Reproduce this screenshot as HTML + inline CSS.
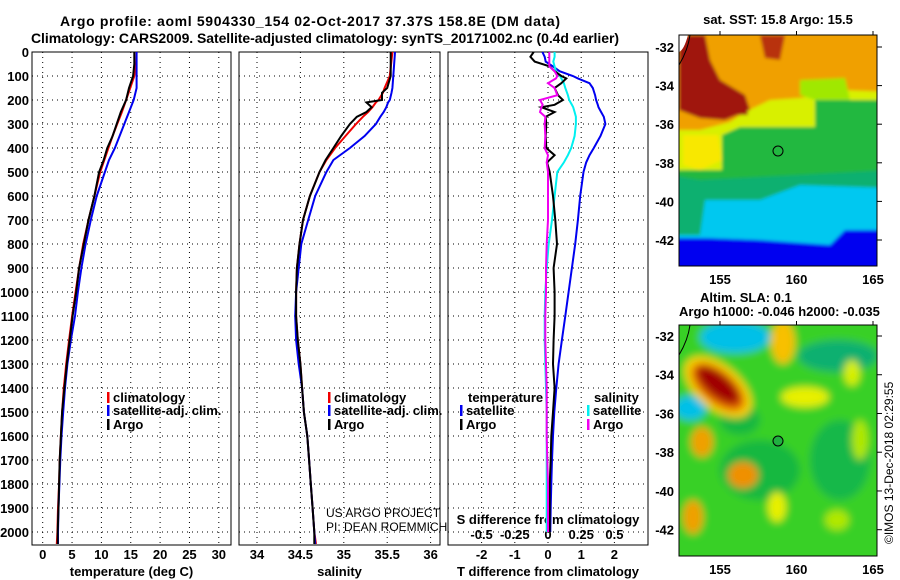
<!DOCTYPE html>
<html><head><meta charset="utf-8"><style>
html,body{margin:0;padding:0;background:#fff;}
svg{display:block;font-family:"Liberation Sans",sans-serif;}
.b{font-weight:bold;font-size:13px;}
.t{font-weight:bold;font-size:14px;}
.g{stroke:#000;stroke-width:1;stroke-dasharray:1,4;}
</style></head><body>
<svg id="chart" width="900" height="580" viewBox="0 0 900 580">
<text class="t" x="60" y="26" textLength="500">Argo profile: aoml 5904330_154 02-Oct-2017 37.37S 158.8E (DM data)</text>
<text class="t" x="31" y="43" textLength="588">Climatology: CARS2009. Satellite-adjusted climatology: synTS_20171002.nc (0.4d earlier)</text>
<g id="axes"></g>
<g id="lines"></g>

<defs>
<clipPath id="c1"><rect x="679" y="35" width="198" height="231"/></clipPath>
<clipPath id="c2"><rect x="679" y="325" width="198" height="231"/></clipPath>
<filter id="bl1"><feGaussianBlur stdDeviation="1.5"/></filter>
<filter id="bl2"><feGaussianBlur stdDeviation="4"/></filter>
</defs>
<g clip-path="url(#c1)">
 <g filter="url(#bl1)">
 <rect x="670" y="25" width="220" height="250" fill="#0000f0"/>
 <polygon points="670,25 890,25 890,230 845,230 830,245 760,240 705,238 670,238" fill="#00c8f0"/>
 <polygon points="670,25 890,25 890,188 800,185 760,200 705,200 700,235 670,235" fill="#10b070"/>
 <polygon points="670,25 890,25 890,170 700,180 670,175" fill="#20b840"/>
 <polygon points="670,25 890,25 890,100 815,100 815,127 740,127 722,135 722,170 670,170" fill="#d8f000"/>
 <polygon points="670,25 890,25 890,92 840,90 800,98 770,100 745,112 730,122 700,130 670,130" fill="#f0a000"/>
 <polygon points="800,80 845,78 850,100 815,100 800,95" fill="#a0e800"/>
 <polygon points="679,35 705,35 710,60 720,80 745,95 750,110 725,120 700,118 679,110" fill="#a01808"/>
 <polygon points="760,35 785,35 780,60 765,58" fill="#b83008"/>
 <polygon points="725,95 745,100 748,115 728,115" fill="#a01808"/>
 <polygon points="683,135 718,135 722,160 700,170 683,165" fill="#f8e800"/>
 </g>
 <path d="M679,65 Q688,50 690,35" fill="none" stroke="#000" stroke-width="1"/>
 <path d="M679,35 L688,35 Q684,50 679,52 Z" fill="#fff"/>
 <circle cx="778" cy="151" r="5" fill="none" stroke="#000" stroke-width="1"/>
</g>
<g clip-path="url(#c2)">
 <g filter="url(#bl2)">
 <rect x="670" y="315" width="220" height="250" fill="#38d028"/>
 <ellipse cx="735" cy="337" rx="35" ry="16" fill="#00c0e8"/>
 <ellipse cx="838" cy="356" rx="40" ry="16" fill="#10b070"/>
 <ellipse cx="690" cy="408" rx="16" ry="12" fill="#00c0e8"/>
 <ellipse cx="760" cy="470" rx="40" ry="30" fill="#18b840"/>
 <ellipse cx="840" cy="460" rx="30" ry="40" fill="#18b848"/>
 <ellipse cx="740" cy="420" rx="20" ry="15" fill="#18b840"/>
 <ellipse cx="718" cy="387" rx="40" ry="22" fill="#f8d000" transform="rotate(40 718 387)"/>
 <ellipse cx="718" cy="387" rx="32" ry="16" fill="#e06000" transform="rotate(40 718 387)"/>
 <ellipse cx="718" cy="385" rx="26" ry="11" fill="#a00000" transform="rotate(40 718 385)"/>
 <ellipse cx="783" cy="342" rx="12" ry="22" fill="#f8c000"/>
 <ellipse cx="805" cy="397" rx="24" ry="10" fill="#e8f000"/>
 <ellipse cx="852" cy="373" rx="8" ry="13" fill="#d8f000"/>
 <ellipse cx="702" cy="442" rx="11" ry="15" fill="#f0a000"/>
 <ellipse cx="743" cy="475" rx="15" ry="13" fill="#f09000"/>
 <ellipse cx="693" cy="517" rx="10" ry="17" fill="#f0a000"/>
 <ellipse cx="777" cy="507" rx="9" ry="15" fill="#e8f000"/>
 <ellipse cx="837" cy="520" rx="12" ry="10" fill="#b0e800"/>
 <ellipse cx="860" cy="440" rx="8" ry="20" fill="#b0e800"/>
 </g>
 <path d="M679,355 Q688,340 690,325" fill="none" stroke="#000" stroke-width="1"/>
 <circle cx="778" cy="441" r="5" fill="#20b040" stroke="#000" stroke-width="1"/>
</g>
<rect x="679" y="35" width="198" height="231" fill="none" stroke="#000"/>
<rect x="679" y="325" width="198" height="231" fill="none" stroke="#000"/>
<text class="b" x="778" y="24" text-anchor="middle">sat. SST: 15.8 Argo: 15.5</text>
<text class="b" x="700" y="302">Altim. SLA: 0.1</text>
<text class="b" x="679" y="316">Argo h1000: -0.046 h2000: -0.035</text>
<g id="maptick"></g>
<text x="893" y="544" font-size="12" transform="rotate(-90 893 544)">©IMOS 13-Dec-2018 02:29:55</text>
<text x="326" y="517" font-size="12">US ARGO PROJECT</text>
<text x="326" y="531" font-size="12">PI: DEAN ROEMMICH</text>
</svg>
<script>
// ---- data ----
const depthT = [0,50,100,150,200,250,300,350,400,450,500,600,700,800,900,1000,1100,1200,1300,1400,1500,1600,1700,1800,1900,2000,2050];
const tempClim = [16.0,15.9,15.6,14.9,14.2,13.5,12.7,11.9,11.2,10.5,9.8,8.8,7.8,6.9,6.2,5.6,5.0,4.5,4.0,3.6,3.3,3.1,2.9,2.8,2.6,2.5,2.4];
const tempArgo = [15.6,15.6,15.4,14.7,14.2,13.3,12.6,11.9,11.0,10.4,9.6,8.8,7.8,7.0,6.2,5.7,5.1,4.6,4.1,3.7,3.3,3.1,2.9,2.8,2.7,2.55,2.55];
const tempSat = [16.0,16.0,16.0,16.0,15.5,14.7,13.9,13.1,12.3,11.3,10.6,9.2,8.2,7.3,6.6,6.0,5.5,4.8,4.2,3.8,3.5,3.2,3.0,2.85,2.7,2.6,2.6];
const depthS = [0,100,150,170,200,210,230,250,270,300,350,400,450,500,600,700,800,900,1000,1100,1200,1300,1400,1500,1600,1700,1800,1900,2000,2050];
const salClim = [35.56,35.53,35.47,35.45,35.40,35.37,35.33,35.28,35.22,35.14,35.02,34.90,34.80,34.72,34.61,34.53,34.49,34.46,34.45,34.45,34.47,34.50,34.52,34.54,34.58,34.60,34.62,34.64,34.66,34.68];
const salArgo = [35.54,35.54,35.50,35.44,35.44,35.26,35.32,35.26,35.15,35.07,34.97,34.88,34.79,34.72,34.61,34.53,34.49,34.46,34.45,34.45,34.47,34.50,34.52,34.54,34.58,34.60,34.62,34.64,34.66,34.66];
const salSat = [35.59,35.57,35.56,35.55,35.53,35.51,35.49,35.46,35.42,35.37,35.24,35.07,34.88,34.80,34.67,34.59,34.51,34.48,34.45,34.44,34.45,34.48,34.52,34.54,34.58,34.60,34.62,34.64,34.66,34.67];
const depthD = [0,20,40,60,80,100,110,130,150,180,200,220,230,250,270,300,350,400,430,460,500,600,700,800,900,1000,1100,1200,1300,1400,1500,1600,1700,1800,1900,2000];
const dTSat = [-0.17,-0.1,-0.07,0.15,0.35,0.75,0.9,1.25,1.35,1.42,1.45,1.5,1.52,1.6,1.68,1.73,1.58,1.38,1.25,1.15,1.07,0.97,0.9,0.82,0.72,0.62,0.52,0.42,0.32,0.25,0.19,0.15,0.12,0.1,0.08,0.07];
const dTArgo = [-0.43,-0.53,-0.4,0.05,0.2,0.4,0.55,0.4,0.2,0.3,0.45,0.2,-0.2,0.2,-0.07,-0.05,-0.07,-0.05,0.2,-0.03,0.05,0.15,0.22,0.27,0.17,0.2,0.2,0.17,0.15,0.2,0.15,0.1,0.08,0.05,0.05,0.05];
const dSSat = [0.05,0.05,0.04,0.05,0.06,0.09,0.1,0.12,0.13,0.15,0.16,0.18,0.19,0.2,0.21,0.21,0.2,0.175,0.15,0.12,0.07,0.05,0.03,0.005,-0.01,-0.02,-0.025,-0.025,-0.02,-0.015,-0.01,-0.01,-0.01,-0.01,-0.01,-0.01];
const dSArgo = [0.01,0.01,0.01,0.01,0.05,0.07,0.06,0.0,0.05,0.07,-0.06,-0.04,-0.05,-0.06,-0.02,-0.025,-0.02,-0.025,0.0,-0.01,0.0,0.0,0.0,-0.01,-0.015,-0.015,-0.02,-0.02,-0.015,-0.01,-0.01,-0.01,-0.005,0.0,0.0,0.0];
const depthTicks = [0,100,200,300,400,500,600,700,800,900,1000,1100,1200,1300,1400,1500,1600,1700,1800,1900,2000];
const tempTicks = [0,5,10,15,20,25,30];
const salTicks = [34,34.5,35,35.5,36];
const dTTicks = [-2,-1,0,1,2];
const dSTicks = [-0.5,-0.25,0,0.25,0.5];
const dSTickLabels = ["-0.5","-0.25","0","0.25","0.5"];
const latTicks = [-32,-34,-36,-38,-40,-42];
const lonTicks = [155,160,165];

// ---- scales ----
const yD = d => 52 + d * 0.24;
const xT = t => 42.7 + t * 5.87;
const xS = s => 257 + (s - 34) * 86.8;
const xDT = d => 548 + d * 33.2;
const xDS = s => 548 + s * 132.8;
const lonX = l => 720 + (l - 155) * 15.3;
const latY1 = l => 47 + (-32 - l) * 19.3;
const latY2 = l => 336 + (-32 - l) * 19.37;

const NS = "http://www.w3.org/2000/svg";
const axes = document.getElementById("axes");
const lines = document.getElementById("lines");
function mk(tag, attrs, parent, txt){
  const e = document.createElementNS(NS, tag);
  for (const k in attrs) e.setAttribute(k, attrs[k]);
  if (txt !== undefined) e.textContent = txt;
  parent.appendChild(e); return e;
}
const panels = [
  {x0:32, x1:231, ticks:tempTicks, fx:xT, labs:tempTicks.map(String), title:"temperature (deg C)", name:"temperature"},
  {x0:239, x1:440, ticks:salTicks, fx:xS, labs:salTicks.map(String), title:"salinity", name:"salinity"},
  {x0:448, x1:648, ticks:dTTicks, fx:xDT, labs:dTTicks.map(String), title:"T difference from climatology", name:"difference"}
];
panels.forEach((p, pi) => {
  depthTicks.forEach(d => {
    const l = mk("line", {x1:p.x0, x2:p.x1, y1:yD(d), y2:yD(d), class:"g"}, axes);
    
    
    if (pi === 0) {
      const t = mk("text", {x:29, y:yD(d)+5, "text-anchor":"end", class:"b"}, axes, String(d));
      
      
    }
  });
  p.ticks.forEach((v, i) => {
    const l = mk("line", {x1:p.fx(v), x2:p.fx(v), y1:52, y2:545, class:"g"}, axes);
    
    
    const t = mk("text", {x:p.fx(v), y:559, "text-anchor":"middle", class:"b"}, axes, p.labs[i]);
    
    
  });
  const r = mk("rect", {x:p.x0, y:52, width:p.x1-p.x0, height:493, fill:"none", stroke:"#000"}, axes);
  
  
  const tt = mk("text", {x:(p.x0+p.x1)/2, y:576, "text-anchor":"middle", class:"b"}, axes, p.title);
  
  
});
dSTicks.forEach((v, i) => {
  const t = mk("text", {x:xDS(v), y:539, "text-anchor":"middle", class:"b"}, axes, dSTickLabels[i]);
  
  
});
const st = mk("text", {x:548, y:524, "text-anchor":"middle", class:"b"}, axes, "S difference from climatology");



function series(xs, ys, fx, color, name){
  const pts = xs.map((v, i) => fx(v).toFixed(1) + "," + yD(ys[i]).toFixed(1)).join(" ");
  const pl = mk("polyline", {points:pts, fill:"none", stroke:color, "stroke-width":2, "stroke-linejoin":"miter"}, lines);
  
  
}
series(tempClim, depthT, xT, "#f00000", "temperature-climatology-line");
series(tempSat, depthT, xT, "#0000f0", "temperature-satellite-line");
series(tempArgo, depthT, xT, "#000", "temperature-argo-line");
series(salClim, depthS, xS, "#f00000", "salinity-climatology-line");
series(salSat, depthS, xS, "#0000f0", "salinity-satellite-line");
series(salArgo, depthS, xS, "#000", "salinity-argo-line");
series(dTSat, depthD, xDT, "#0000f0", "tdiff-satellite-line");
series(dSSat, depthD, xDS, "#00f0f0", "sdiff-satellite-line");
series(dTArgo, depthD, xDT, "#000", "tdiff-argo-line");
series(dSArgo, depthD, xDS, "#f000f0", "sdiff-argo-line");

function legend(x, y, color, label){
  const r = mk("rect", {x:x, y:y-10, width:2.5, height:11, fill:color}, axes);
  
  
  if (label) {
    const t = mk("text", {x:x+6, y:y, class:"b"}, axes, label);
    
    
  }
}
legend(107, 402, "#f00000", "climatology");
legend(107, 415, "#0000f0", "satellite-adj. clim.");
legend(107, 429, "#000", "Argo");
legend(328, 402, "#f00000", "climatology");
legend(328, 415, "#0000f0", "satellite-adj. clim.");
legend(328, 429, "#000", "Argo");
const lt = mk("text", {x:468, y:402, class:"b"}, axes, "temperature");


legend(460, 415, "#0000f0", "satellite");
legend(460, 429, "#000", "Argo");
const ls = mk("text", {x:594, y:402, class:"b"}, axes, "salinity");


legend(587, 415, "#00f0f0", "satellite");
legend(587, 429, "#f000f0", "Argo");

const mt = document.getElementById("maptick");
[[latY1, 266, 35],[latY2, 556, 325]].forEach(([fy, bot, top]) => {
  latTicks.forEach(l => {
    const t = mk("text", {x:674, y:fy(l)+5, "text-anchor":"end", class:"b"}, mt, String(l));
    
    
    const k = mk("line", {x1:877, x2:882, y1:fy(l), y2:fy(l), stroke:"#000"}, mt);
    
    
  });
  lonTicks.forEach(l => {
    const t = mk("text", {x:lonX(l), y:bot+18, "text-anchor":"middle", class:"b"}, mt, String(l));
    
    
    const k = mk("line", {x1:lonX(l), x2:lonX(l), y1:top-4, y2:top, stroke:"#000"}, mt);
    
    
  });
});
</script>
</body></html>
